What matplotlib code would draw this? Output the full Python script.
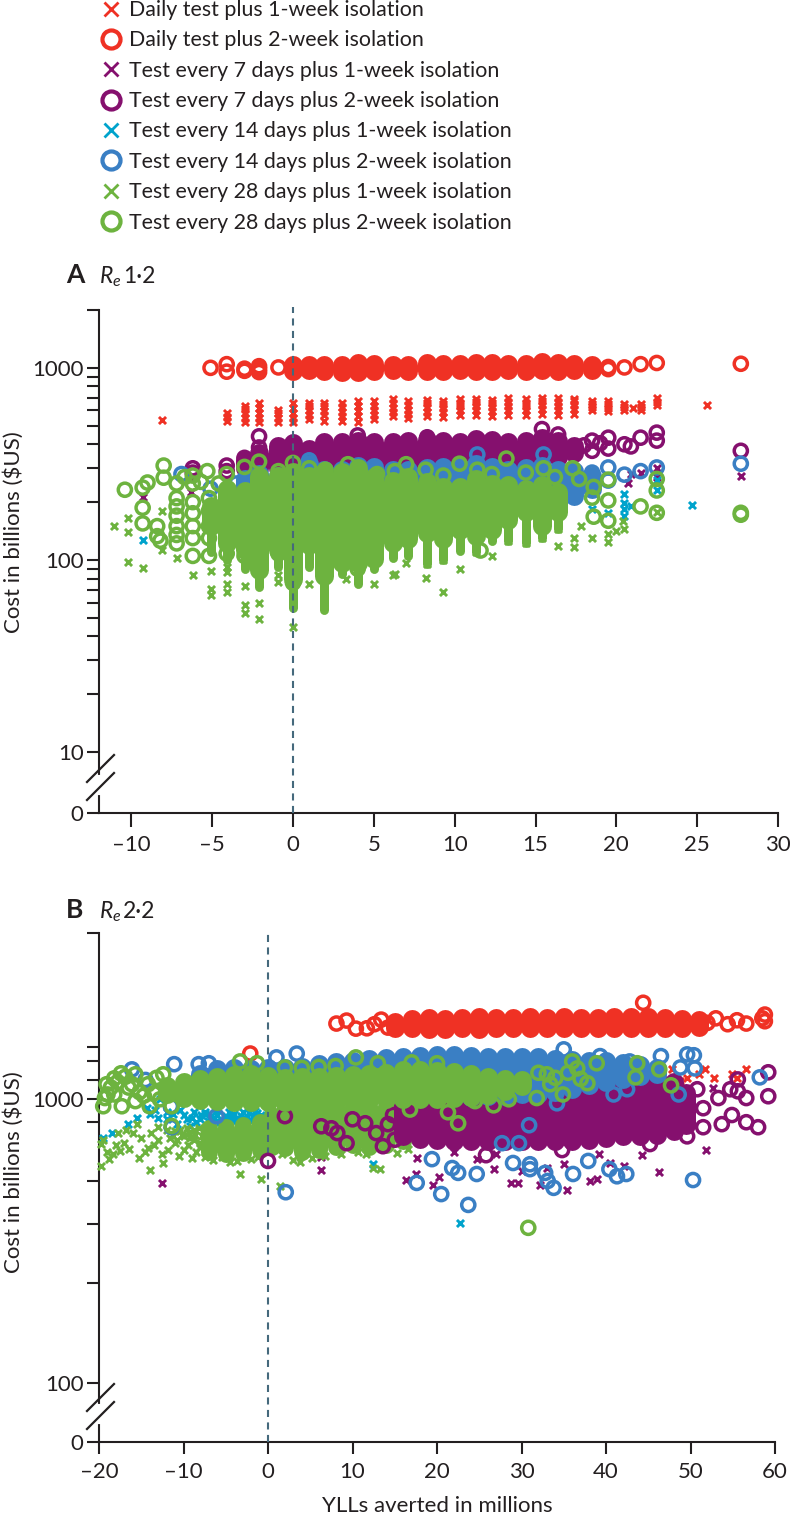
import matplotlib
matplotlib.use('Agg')
import matplotlib.pyplot as plt
from matplotlib.lines import Line2D

plt.rcParams['font.family'] = 'Lato'
plt.rcParams['mathtext.fontset'] = 'custom'
plt.rcParams['mathtext.it'] = 'Lato:italic'
plt.rcParams['mathtext.rm'] = 'Lato'

W, H = 790, 1516
RED = '#ef3124'
PURPLE = '#85106e'
CYAN = '#00a3cc'
BLUE = '#3a7fc4'
GREEN = '#6db33f'
DARK = '#231f20'
DASH = '#45697c'

legend_labels = ['Daily test plus 1-week isolation', 'Daily test plus 2-week isolation',
                 'Test every 7 days plus 1-week isolation', 'Test every 7 days plus 2-week isolation',
                 'Test every 14 days plus 1-week isolation', 'Test every 14 days plus 2-week isolation',
                 'Test every 28 days plus 1-week isolation', 'Test every 28 days plus 2-week isolation']
legend_colors = [RED, RED, PURPLE, PURPLE, CYAN, BLUE, GREEN, GREEN]

# panel A - solid parts, one low/high per column of overlapping points
a_green_cols = [-5.1, -4.1, -3, -2.1, -0.9, 0, 1, 1.9, 3, 4, 5, 6.2, 7.1, 8.3, 9.3, 10.3, 11.3, 12.3, 13.3, 14.4, 15.4, 16.4]
a_green_hi = [190, 235, 228, 275, 275, 288, 275, 288, 288, 300, 270, 258, 270, 255, 240, 240, 265, 250, 245, 235, 245, 225]
a_green_lo = [150, 122, 113, 89, 113, 80, 119, 83, 97, 97, 101, 123, 128, 138, 128, 144, 134, 144, 162, 177, 151, 177]
a_greenx_lo = [110, 100, 90, 72, 92, 56, 92, 55, 85, 75, 90, 103, 105, 95, 100, 112, 110, 125, 125, 122, 130, 145]

a_blue_cols = [-3, -2.1, -0.9, 0, 1, 1.9, 3, 4, 5, 6.2, 7.1, 8.3, 9.3, 10.3, 11.3, 12.3, 13.3, 14.4, 15.4, 16.4, 17.4, 18.5]
a_blue_hi = [265, 280, 275, 285, 315, 295, 295, 310, 305, 295, 295, 300, 305, 305, 315, 305, 295, 300, 310, 295, 290, 275]
a_blue_lo = [200, 200, 200, 200, 200, 200, 200, 200, 200, 200, 200, 200, 200, 200, 200, 200, 200, 200, 200, 205, 215, 235]

a_purple_cols = [-3, -2.1, -0.9, 0, 1, 1.9, 3, 4, 5, 6.2, 7.1, 8.3, 9.3, 10.3, 11.3, 12.3, 13.3, 14.4, 15.4, 16.4, 17.4]
a_purple_hi = [330, 360, 390, 405, 378, 410, 410, 418, 412, 412, 415, 422, 418, 412, 425, 420, 412, 418, 432, 418, 392]
a_purple_lo = [300, 300, 300, 300, 300, 300, 300, 300, 300, 300, 300, 300, 300, 300, 300, 300, 310, 320, 335, 345, 360]

a_red_cols = [0, 1, 1.9, 3, 4, 5, 6.2, 7.1, 8.3, 9.3, 10.3, 11.3, 12.3, 13.3, 14.4, 15.4, 16.4, 17.4, 18.5]
a_red_hi = [1030, 1030, 1040, 1040, 1055, 1050, 1040, 1040, 1065, 1050, 1050, 1060, 1055, 1050, 1050, 1070, 1065, 1050, 1040]
a_red_lo = [960, 970, 960, 955, 955, 960, 970, 965, 960, 965, 975, 960, 965, 970, 965, 970, 965, 970, 975]

# panel A - separate points
a_redo_x = [-5.1, -4.1, -4.1, -3, -3, -2.1, -2.1, -2.1, -0.9, 19.5, 19.5, 20.5, 21.5, 22.5, 27.7]
a_redo_y = [1000, 1045, 955, 965, 990, 1020, 985, 950, 1005, 1010, 985, 1005, 1045, 1060, 1050]
a_purpleo_x = [-6.2, -6.2, -4.1, -4.1, -3, -2.1, -2.1, 4, 8.3, 15.4, 16.4, 18.5, 18.5, 18, 19.5, 19.5, 19, 20.5, 20.9, 21.5, 22.5, 22.5, 27.7]
a_purpleo_y = [300, 285, 310, 290, 340, 440, 385, 445, 435, 480, 450, 418, 370, 395, 433, 380, 405, 400, 390, 433, 460, 418, 370]
a_blueo_x = [-6.9, -5.1, -3.5, 1, 11.4, 15.5, 18.5, 19.5, 19.5, 20.5, 21.5, 22.5, 27.7]
a_blueo_y = [280, 235, 250, 330, 354, 354, 285, 303, 259, 278, 290, 303, 317]
a_greeno_x = [-10.4, -9.3, -9, -8, -8, -9.3, -9.3, -8.4, -8.4, -8.2, -7.2, -7.2, -7.2, -7.2, -7.2, -7.2, -7.2,
              -6.2, -6.2, -6.2, -6.2, -6.2, -6.2, -6.2, -5.3, -5.2, -5.2, -5.2, -5.2, -5.2, -4.1, -3, -2.1, -0.9, 0, 1, 2, 3.4,
              -0.9, -2.1, 0, 4, 5.2, 6.3, 7, 8.2, 9.3, 10.3, 11.4, 12.3, 13.2, 14.4, 15.5, 16.2, 17.3, 17.7, 18.6, 18.5, 19.5, 19.5, 19.5, 18.6, 21.5, 22.5, 22.5,
              22.5, 27.7, 27.7, 11.6, -4.1, -3, -2.1, -6.7, -5.7, -4.6]
a_greeno_y = [232, 238, 253, 310, 268, 187, 155, 150, 133, 126, 250, 210, 190, 170, 150, 135, 122,
              250, 275, 200, 175, 150, 130, 105, 290, 210, 180, 150, 130, 105, 280, 305, 325, 290, 320, 300, 295, 315,
              108, 90, 76, 90, 280, 290, 315, 295, 275, 317, 295, 280, 337, 285, 300, 270, 300, 264, 240, 211, 262, 204, 160, 168, 190, 264, 230,
              176, 176, 172, 112, 108, 105, 265, 270, 255, 250]

a_redx_cols = [-4.1, -3, -2.1, -0.9, 0, 1, 1.9, 3, 4, 5, 6.2, 7.1, 8.3, 9.3, 10.3, 11.3, 12.3, 13.3, 14.4, 15.4, 16.4, 17.4, 18.5, 19.5, 20.5, 21.5, 22.5]
a_redx_ys = [[530, 555, 585], [520, 550, 580, 610, 635], [520, 550, 585, 620, 660], [520, 550, 580, 605],
             [520, 550, 585, 620, 655], [540, 570, 600, 630, 660], [530, 565, 595, 630, 660], [530, 560, 590, 625, 660],
             [525, 560, 595, 635, 670], [540, 570, 600, 635, 670], [560, 590, 620, 655, 690], [545, 575, 605, 640, 670],
             [560, 590, 625, 655, 680], [555, 590, 620, 650, 675], [570, 600, 630, 660, 685], [565, 600, 630, 665, 690],
             [560, 595, 625, 655, 680], [570, 600, 635, 665, 695], [565, 600, 630, 660, 685], [575, 610, 640, 670, 695],
             [570, 605, 635, 665, 695], [575, 610, 640, 670, 690], [600, 625, 650, 675], [595, 620, 645, 670],
             [600, 625, 650], [600, 625, 645], [640, 665, 695]]
a_redx_extra_x = [-8.1, 25.6, 21]
a_redx_extra_y = [535, 642, 620]
a_purplex_x = [27.7, 20.7, 22.5, 21.5, 20.9, 22.5, -6.3, -9.3]
a_purplex_y = [275, 253, 300, 285, 280, 270, 225, 212]
a_cyanx_x = [-9.3, 20.5, 20.5, 20.5, 20.5, 20.9, 24.7, 22.5, 22.5, 16.4, 16.4, 18.5, 19.5]
a_cyanx_y = [127, 220, 197, 185, 170, 190, 194, 262, 230, 180, 155, 185, 175]
a_greenx_x = [-11.1, -10.2, -10.2, -10.2, -9.3, -8.1, -8.1, -7.2, -6.2, -5.1, -5.1, -5.1, -4.1, -4.1, -4.1, -4.1, -3, -3, -3,
              -2.1, -2.1, -0.9, -0.9, 0, 1, 5, 3.3, 6.2, 6.3, 7, 8.3, 8.2, 9.3, 9.3, 10.3, 11.3, 12.3, 13.3, 14.4, 15.4,
              16.4, 16.4, 17.4, 17.4, 18.5, 19.5, 19.5, 20, 20.4, 22.5, 20.5, 17.8]
a_greenx_y = [150, 165, 140, 98, 91, 180, 113, 102, 84, 88, 71, 66, 92, 87, 75, 68, 73, 58, 53,
              60, 49, 77, 84, 45, 75, 75, 80, 84, 85, 97, 95, 81, 100, 68, 90, 110, 105, 125, 122, 130,
              145, 118, 130, 117, 130, 136, 124, 142, 160, 178, 145, 150]

# panel B - solid parts
b_red_cols = [15, 17, 19, 21, 23, 25, 27, 29, 31, 33, 35, 37, 39, 41, 43, 45, 47, 49, 51]
b_red_hi = [1880, 1920, 1940, 1920, 1940, 1950, 1940, 1940, 1950, 1940, 1950, 1940, 1940, 1950, 1950, 1950, 1940, 1920, 1910]
b_red_lo = [1780, 1785, 1775, 1770, 1780, 1775, 1780, 1785, 1780, 1780, 1785, 1780, 1790, 1780, 1785, 1790, 1785, 1790, 1800]

b_blue_cols = [-8, -6, -4, -2, 0, 2, 4, 6, 8, 10, 12, 14, 16, 18, 20, 22, 24, 26, 28, 30, 32, 34, 36, 38, 40, 42, 44, 46]
b_blue_hi = [1230, 1275, 1285, 1280, 1290, 1290, 1300, 1330, 1350, 1360, 1390, 1400, 1410, 1420, 1430, 1430, 1420, 1410, 1405, 1410, 1410, 1390, 1380, 1370, 1360, 1340, 1320, 1290]
b_blue_lo = [1100, 1100, 1100, 1100, 1100, 1100, 1100, 1050, 1030, 1020, 1020, 1020, 1020, 1020, 1020, 1020, 1020, 1025, 1030, 1040, 1040, 1060, 1090, 1120, 1150, 1180, 1210, 1230]

b_purple_cols = [16, 18, 20, 22, 24, 26, 28, 30, 32, 34, 36, 38, 40, 42, 44, 46, 48, 49.5]
b_purple_hi = [980, 1000, 1000, 1000, 1000, 1020, 1020, 1050, 1060, 1060, 1080, 1100, 1120, 1150, 1180, 1190, 1150, 1050]
b_purple_lo = [740, 725, 720, 715, 712, 712, 715, 712, 712, 712, 715, 720, 730, 740, 745, 750, 770, 810]

b_green_cols = [-12, -10, -8, -6, -4, -2, 0, 2, 4, 6, 8, 10, 12, 14, 16, 18, 20, 22, 24, 26, 28, 30]
b_green_hi = [1115, 1150, 1180, 1195, 1220, 1230, 1205, 1190, 1195, 1200, 1205, 1215, 1230, 1240, 1265, 1270, 1260, 1250, 1230, 1195, 1180, 1165]
b_green_lo = [1040, 1010, 995, 985, 980, 980, 980, 978, 978, 980, 985, 990, 995, 1000, 1002, 1002, 1002, 1010, 1020, 1035, 1070, 1115]

b_greenx_cols = [-7, -5, -3, -1, 0.5, 2, 4, 6, 8, 10, 12, 14, 16, 18]
b_greenx_lo = [650, 640, 645, 660, 680, 675, 650, 665, 680, 690, 680, 690, 710, 730]
b_greenx_hi = [790, 800, 810, 830, 880, 950, 950, 950, 950, 950, 950, 950, 950, 920]

# panel B - separate points
b_redo_x = [-2.1, 8.1, 9.3, 10.4, 11.7, 12.6, 13.4, 14.2, 44.4, 52, 53, 54.4, 55.5, 56.6, 58.8, 58.8, 58.5]
b_redo_y = [1450, 1850, 1895, 1775, 1780, 1840, 1910, 1790, 2190, 1860, 1930, 1840, 1900, 1850, 1990, 1885, 1930]
b_purpleo_x = [51.5, 53.7, 54.9, 56.6, 58, 53.3, 54.7, 55.6, 55.6, 56.6, 59.2, 59.2, 51.5, 50.8, 49.6, 45.2, 25.8, 34.8,
               0, 2, 6.3, 8.2, 9.3, 11.5, 13.6, 14.2, 15, 10, 7.5, 12.8, 14.8]
b_purpleo_y = [797, 817, 880, 830, 797, 1010, 1085, 1175, 1067, 1010, 1025, 1245, 930, 1085, 740, 695, 635, 662,
               606, 872, 803, 760, 700, 823, 683, 817, 720, 850, 790, 760, 880]
b_blueo_x = [17.6, 20.5, 23.7, 19.4, 21.8, 22.5, 24.7, 29, 31, 31, 32.8, 33.1, 33.8, 36.1, 37.9, 40.4, 41.3, 42.4, 50.3,
             27.7, 29.7, 30.9, 34.2, 40.9, 42.5, 48.6, 48.8, 49.6, 50.4, 50.5, 46.5, 58.2, 35, 39.3, 42.8,
             2.1, 1, 3.4, -11.1, -16.1, -8.2, -7, -11.4, -6.1, -11.5, -14.5, -9.5]
b_blueo_y = [507, 463, 424, 615, 572, 550, 545, 596, 590, 567, 550, 515, 487, 545, 606, 567, 535, 545, 519,
             700, 700, 810, 968, 1040, 1085, 1040, 1295, 1440, 1430, 1285, 1420, 1195, 1500, 1420, 1360,
             470, 1405, 1450, 1330, 1275, 1330, 1340, 797, 872, 945, 1170, 1090]
b_greeno_x = [-19.5, -19.1, -18.2, -17.4, -15.7, -17.3, -15.7, -18.2, -14.2, -12.4, -14, -11.4, -11.4, -3.3, -1.3, 10.4,
              -16.5, -13.5, -19, -19.3, -18.6, -17.8, -16.9, -16.1, -15.2, -14.7, -13.2, -12.8,
              22.5, 21.3, 16.8, 38.9, 36, 43.7, 43.5, 46.3, 47.7, 30.8, 37.8, 36.6, 34.9, 31.8, 26.7, 33, 33.4, 24.5, 28.5,
              32, 34, 35.5, 37, 6, 4, 2, 8, 13, 17, 20]
b_greeno_y = [945, 1130, 1185, 1235, 1225, 945, 985, 1040, 1130, 1225, 945, 805, 945, 1360, 1340, 1405,
              1100, 1050, 1040, 1010, 1100, 1150, 1200, 1130, 1060, 1030, 1190, 1000,
              823, 900, 920, 1340, 1360, 1340, 1195, 1275, 1120, 352, 1140, 1285, 1040, 1010, 952, 1225, 1130, 985, 1000,
              1240, 1190, 1240, 1180, 1300, 1290, 1295, 1310, 1340, 1350, 1340]

b_redx_x = [51.7, 52.8, 54.9, 56.6, 49.6, 47.8, 51, 55.5, 48.8]
b_redx_y = [1275, 1185, 1225, 1275, 1185, 1275, 1230, 1190, 1160]
b_purplex_x = [51.8, 46.3, 44.3, 39.2, 38.9, 38.1, 35.4, 32.2, 29.6, 28.8, 26.7, 20.2, 19.5, 16.3, 17.5, 24.7, 17.6, 40.5, 42.1, 52.7, 33,
               -12.6, 6.3, 6.3, 30, 35, 22, 27]
b_purplex_y = [662, 553, 635, 640, 523, 515, 478, 499, 507, 507, 567, 530, 499, 519, 545, 615, 620, 596, 581, 1092, 572,
               507, 563, 626, 560, 590, 650, 640]
b_cyanx_x = [22.7, 12.4, -19.5, -18.5, -16.6, -15.5, -14.3, -13.4, -12.8, -10.8, -9.2, -8, -6.8, -4.9, -4, -3.2, -2.3, -1.3, 4,
             -12, -10, -9, -7.5, -6, -5.5, -3.8, -2.8, -1.8, -0.8, 2.5,
             -14, -13, -12, -11.3, -10.4, -9.6, -8.5, -7.9, -7.1, -6.4, -5.7, -5, -4.3, -3.5, -2.6, -2, -1, -0.3, 0.4, 1.2, 1.9, 3, 3.5,
             -8.8, -7.4, -6.1, -4.6, -3, -1.5, 0, 1.4]
b_cyanx_y = [367, 590, 730, 760, 815, 857, 930, 920, 1000, 815, 805, 850, 870, 857, 885, 870, 893, 893, 885,
             900, 880, 860, 890, 880, 840, 850, 860, 870, 880, 920,
             890, 860, 850, 890, 920, 850, 830, 880, 840, 860, 830, 870, 845, 835, 855, 840, 865, 850, 870, 850, 890, 860, 895,
             905, 905, 910, 900, 905, 910, 905, 900]
b_greenx_x = [-14, -3.3, -0.8, 1.4, -19.8, -18.8, -19.8, -17.7, -15.5, -15.3, -14.2, -12.4, 12.4, 13.3, 15.3, 16.6,
              -19.5, -19, -18, -17, -16.4, -16, -15, -14.5, -13.5, -13, -12.5, -11.8, -11, -10.5, -10, -9.5, -9, -8.5, -8, -7.5,
              -18.3, -17.5, -16.8, -13.8, -13, -12, -11.2, -10.2, -9.4, -8.7, -8.1,
              -6.5, -5.5, -4.5, -3.7, -2, -1.2, 1.7, 3, 3.8, 5.2, 6.8, 8.6, 10.7, 11.6,
              -11.6, -10.8, -10, -9.2, -8.6, -7.8, -11, -10.4, -9.6, -8.8, -8.2]
b_greenx_y = [562, 545, 522, 493, 581, 615, 695, 760, 815, 620, 672, 596, 572, 567, 646, 667,
              720, 650, 690, 700, 670, 760, 730, 650, 690, 720, 640, 660, 700, 630, 665, 690, 620, 650, 680, 625,
              640, 655, 780, 760, 800, 780, 740, 750, 760, 720, 700,
              610, 625, 600, 605, 615, 625, 640, 610, 600, 620, 630, 640, 650, 640,
              730, 720, 740, 730, 750, 740, 770, 780, 790, 780, 790]

fig = plt.figure(figsize=(W / 100, H / 100), dpi=100)


def px(ax_l, ax_t, ax_r, ax_b):
    return [ax_l / W, 1 - ax_b / H, (ax_r - ax_l) / W, (ax_b - ax_t) / H]


def rings(ax, x, y, color, z):
    ax.scatter(x, y, s=90, facecolors='none', edgecolors=color, linewidths=2.5, zorder=z, clip_on=False)


def crosses(ax, x, y, color, z):
    ax.scatter(x, y, s=26, marker='x', color=color, linewidths=2.1, zorder=z, clip_on=False)


def solid(ax, x, lo, hi, color, z, width=19):
    # overlapping points merge into a solid column
    ax.vlines(x, lo, hi, colors=color, linewidth=width * 0.72, zorder=z, capstyle='round')


def style_axis(ax, xticks, xlabels, yticks, ylabels, minor, xlen):
    ax.set_yscale('log')
    for s in ['top', 'right']:
        ax.spines[s].set_visible(False)
    for s in ['left', 'bottom']:
        ax.spines[s].set_linewidth(1.5)
        ax.spines[s].set_color(DARK)
    ax.set_xticks(xticks)
    ax.set_xticklabels(xlabels)
    ax.set_yticks(yticks)
    ax.set_yticklabels(ylabels)
    ax.set_yticks(minor, minor=True)
    ax.set_yticklabels([], minor=True)
    ax.tick_params(axis='y', which='both', length=8.6, width=1.5, color=DARK, labelsize=16, labelcolor=DARK, pad=2.5)
    ax.tick_params(axis='x', length=xlen, width=1.5, color=DARK, labelsize=16, labelcolor=DARK, pad=6)
    ax.patch.set_alpha(0)


def axis_break(offset):
    # white gap in the axis and the two slashes
    fig.add_artist(Line2D([99 / W, 99 / W], [1 - (782 + offset - 5) / H, 1 - (782 + offset + 11) / H],
                          color='white', lw=3, zorder=20))
    for d in [0, 18]:
        fig.add_artist(Line2D([87 / W, 114 / W], [1 - (782 + offset + d) / H, 1 - (755 + offset + d) / H],
                              color=DARK, lw=1.6, zorder=21))


# panel A
ax1 = fig.add_axes(px(99, 310, 778, 813))
ax1.set_xlim(-12, 30)
ax1.set_ylim(4.82, 2000)
style_axis(ax1, [-10, -5, 0, 5, 10, 15, 20, 25, 30], ['–10', '–5', '0', '5', '10', '15', '20', '25', '30'],
           [4.82, 10, 100, 1000], ['0', '10', '100', '1000'],
           [20, 30, 40, 50, 60, 70, 80, 90, 200, 300, 400, 500, 600, 700, 800, 900, 2000], 10)

for col, ys in zip(a_redx_cols, a_redx_ys):
    crosses(ax1, [col] * len(ys), ys, RED, 2)
crosses(ax1, a_redx_extra_x, a_redx_extra_y, RED, 2)
crosses(ax1, a_purplex_x, a_purplex_y, PURPLE, 3)
crosses(ax1, a_cyanx_x, a_cyanx_y, CYAN, 4)
solid(ax1, a_green_cols, a_greenx_lo, a_green_hi, GREEN, 5, width=9)
crosses(ax1, a_greenx_x, a_greenx_y, GREEN, 5)
solid(ax1, a_red_cols, a_red_lo, a_red_hi, RED, 6)
rings(ax1, a_redo_x, a_redo_y, RED, 6)
solid(ax1, a_purple_cols, a_purple_lo, a_purple_hi, PURPLE, 7)
rings(ax1, a_purpleo_x, a_purpleo_y, PURPLE, 7)
solid(ax1, a_blue_cols, a_blue_lo, a_blue_hi, BLUE, 8)
rings(ax1, a_blueo_x, a_blueo_y, BLUE, 8)
solid(ax1, a_green_cols, a_green_lo, a_green_hi, GREEN, 9)
rings(ax1, a_greeno_x, a_greeno_y, GREEN, 9)
ax1.plot([0, 0], [4.82, 2080], color=DASH, lw=1.5, dashes=(3.4, 2.6), zorder=10, clip_on=False)
axis_break(0)

# panel B
ax2 = fig.add_axes(px(99, 933, 775, 1442))
ax2.set_xlim(-20, 60)
ax2.set_ylim(61.8, 3860)
style_axis(ax2, [-20, -10, 0, 10, 20, 30, 40, 50, 60], ['–20', '–10', '0', '10', '20', '30', '40', '50', '60'],
           [61.8, 100, 1000], ['0', '100', '1000'],
           [224, 364, 513, 829, 1167, 1362, 1527, 3860], 8.6)

crosses(ax2, b_redx_x, b_redx_y, RED, 2)
crosses(ax2, b_purplex_x, b_purplex_y, PURPLE, 3)
crosses(ax2, b_cyanx_x, b_cyanx_y, CYAN, 4)
solid(ax2, b_greenx_cols, b_greenx_lo, b_greenx_hi, GREEN, 5, width=17)
crosses(ax2, b_greenx_x, b_greenx_y, GREEN, 5)
ax2.plot([0, 0], [61.8, 3860], color=DASH, lw=1.5, dashes=(3.4, 2.6), zorder=5.5, clip_on=False)
solid(ax2, b_red_cols, b_red_lo, b_red_hi, RED, 6)
rings(ax2, b_redo_x, b_redo_y, RED, 6)
solid(ax2, b_purple_cols, b_purple_lo, b_purple_hi, PURPLE, 7)
rings(ax2, b_purpleo_x, b_purpleo_y, PURPLE, 7)
solid(ax2, b_blue_cols, b_blue_lo, b_blue_hi, BLUE, 8)
rings(ax2, b_blueo_x, b_blueo_y, BLUE, 8)
solid(ax2, b_green_cols, b_green_lo, b_green_hi, GREEN, 9)
rings(ax2, b_greeno_x, b_greeno_y, GREEN, 9)
axis_break(629)

# text
fig.text(14 / W, 1 - 532 / H, 'Cost in billions (\\$US)', rotation=90, ha='center', va='center', fontsize=16, color=DARK)
fig.text(14 / W, 1 - 1172 / H, 'Cost in billions (\\$US)', rotation=90, ha='center', va='center', fontsize=16, color=DARK)
fig.text(437 / W, 1 - 1506 / H, 'YLLs averted in millions', ha='center', va='center', fontsize=16, color=DARK)
fig.text(66 / W, 1 - 283 / H, 'A', fontsize=19, fontweight='bold', color=DARK)
fig.text(99 / W, 1 - 283 / H, '$R_e$', fontsize=16.5, color=DARK)
fig.text(123 / W, 1 - 283 / H, '1·2', fontsize=16.5, color=DARK)
fig.text(66 / W, 1 - 918 / H, 'B', fontsize=19, fontweight='bold', color=DARK)
fig.text(99 / W, 1 - 918 / H, '$R_e$', fontsize=16.5, color=DARK)
fig.text(123 / W, 1 - 918 / H, '2·2', fontsize=16.5, color=DARK)

handles = []
for i, c in enumerate(legend_colors):
    if i % 2 == 0:
        handles.append(Line2D([], [], ls='none', marker='x', ms=10, mew=2.0, color=c))
    else:
        handles.append(Line2D([], [], ls='none', marker='o', ms=13, mew=3.0, mfc='none', color=c))
fig.legend(handles, legend_labels, loc='upper left', bbox_to_anchor=(95 / W, 1 + 0 / H), frameon=False, fontsize=15.4,
           labelcolor=DARK, labelspacing=0.485, handletextpad=0.1, handlelength=1.5, borderpad=0, borderaxespad=0)

fig.savefig('out.png', dpi=100)
